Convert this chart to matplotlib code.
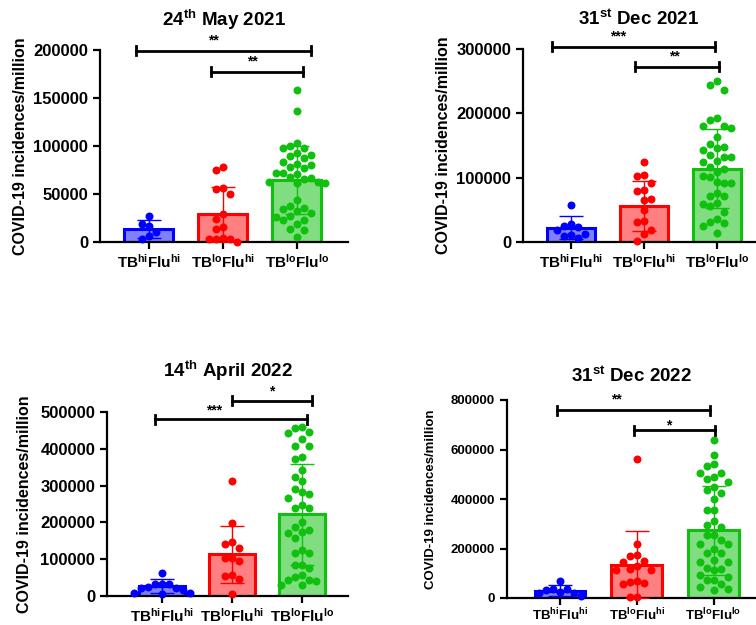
import numpy as np
import matplotlib

matplotlib.use("Agg")
import matplotlib.pyplot as plt

plt.rcParams["font.family"] = ["Liberation Sans", "DejaVu Sans"]
plt.rcParams["font.weight"] = "bold"
plt.rcParams["mathtext.fontset"] = "custom"
plt.rcParams["mathtext.rm"] = "Liberation Sans:bold"
plt.rcParams["mathtext.bf"] = "Liberation Sans:bold"
plt.rcParams["mathtext.it"] = "Liberation Sans:bold"

# ---- data ----
groups = ["TB$^{\\mathrm{hi}}$Flu$^{\\mathrm{hi}}$",
          "TB$^{\\mathrm{lo}}$Flu$^{\\mathrm{hi}}$",
          "TB$^{\\mathrm{lo}}$Flu$^{\\mathrm{lo}}$"]
titles = ["24$^{\\mathrm{th}}$ May 2021", "31$^{\\mathrm{st}}$ Dec 2021",
          "14$^{\\mathrm{th}}$ April 2022", "31$^{\\mathrm{st}}$ Dec 2022"]

# 24th May 2021
blue1 = [27400, 19100, 17000, 10400, 6300, 2800]
red1 = [78500, 75000, 56600, 54900, 50000, 29200, 23600, 15300, 13200, 3800,
        2800, 2800, 2800, 500]
green1 = [157900, 136400, 103100, 99900, 98200, 98200, 93000, 90200, 89500,
          87800, 83300, 81200, 80200, 78400, 76700, 71500, 71500, 71100, 68000,
          67000, 65200, 62800, 62800, 61800, 61100, 43700, 37500, 35000, 34000,
          32300, 29800, 27100, 26400, 22600, 22600, 18700, 13900, 12500, 5600]
mean1 = [13800, 29000, 64500]
sd1 = [9200, 28800, 35000]

# 31st Dec 2021
blue2 = [57600, 27500, 24900, 23400, 18200, 13000, 10400, 9300, 6700]
red2 = [124000, 104000, 103000, 92000, 81000, 80000, 67000, 66000, 49000,
        32000, 31000, 18000, 13000, 2000]
green2 = [250000, 244000, 236000, 192000, 189600, 180000, 180000, 177700,
          162600, 152000, 148000, 146600, 143000, 135000, 132600, 132600,
          125900, 124800, 117000, 113000, 109000, 103000, 101500, 93800, 92200,
          91000, 75600, 72000, 71500, 60000, 59000, 56000, 47000, 35000, 31500,
          29000, 25000, 14500]
mean2 = [22000, 56000, 114000]
sd2 = [18000, 39000, 61000]

# 14th April 2022
blue3 = [62500, 33500, 32000, 31500, 25000, 22000, 21500, 15000, 9000, 8000, 6000]
red3 = [312000, 198000, 147500, 142000, 130000, 104000, 104000, 96000, 57000,
        55000, 47000, 6000]
green3 = [458000, 456000, 445000, 442000, 427000, 408600, 408600, 378700,
          371500, 342500, 322500, 312600, 290800, 283600, 276300, 265500,
          246400, 240100, 238300, 201000, 187500, 178500, 174000, 171000,
          157600, 126000, 117000, 117000, 83000, 83000, 77000, 57000, 51600,
          44400, 44400, 40000, 29000, 29000]
mean3 = [26000, 113000, 222000]
sd3 = [19000, 78500, 137000]

# 31st Dec 2022
blue4 = [67000, 37000, 36000, 34000, 25000, 20000, 19000, 8000]
red4 = [560000, 217000, 175000, 168000, 150000, 145000, 130000, 118000, 115000,
        112000, 68000, 66000, 60000, 56000, 5000, 3000]
green4 = [637000, 579000, 540000, 533000, 504000, 504000, 488000, 482000,
          470000, 447000, 436000, 425000, 400000, 356000, 356000, 312500,
          296000, 288000, 255000, 255000, 234000, 218000, 218000, 197000,
          180000, 180000, 153000, 147000, 147000, 122000, 116000, 113000,
          93000, 86000, 73000, 73000, 56500, 43000, 35000, 32000]
mean4 = [30000, 135000, 274000]
sd4 = [23000, 137000, 180000]

# significance brackets: (x1, x2, y, stars, text x, text y)
sig1 = [(-0.18, 2.19, 199300, "**", 0.87, 203000), (0.84, 2.08, 177400, "**", 1.4, 181000)]
sig2 = [(-0.26, 1.97, 303600, "***", 0.64, 308000), (0.88, 2.02, 272500, "**", 1.42, 277000)]
sig3 = [(1.0, 2.15, 530000, "*", 1.57, 536000), (-0.11, 2.08, 480000, "***", 0.75, 484000)]
sig4 = [(-0.04, 1.96, 759500, "**", 0.73, 772000), (0.96, 2.02, 678500, "*", 1.41, 668000)]

edge_cols = ["#0000ff", "#ff0000", "#0fc00f"]
fill_cols = ["#8080ff", "#ff8080", "#80dd80"]

W, H = 756, 625
fig = plt.figure(figsize=(W / 100, H / 100), dpi=100)

# (left, top, right, bottom) in pixels, xlim, ymax, ytick step, sizes, pads
panels = [
    dict(px=(100, 50, 348, 242), xlim=(-0.66, 2.69), ymax=200000, step=50000,
         tfs=12, lfs=11.5, xfs=11, pad=17, lpad=4, xpad=3,
         pts=(blue1, red1, green1), mean=mean1, sd=sd1, sig=sig1, title=titles[0]),
    dict(px=(523, 49, 755, 242), xlim=(-0.66, 2.52), ymax=300000, step=100000,
         tfs=12, lfs=11.5, xfs=11, pad=17, lpad=4, xpad=3,
         pts=(blue2, red2, green2), mean=mean2, sd=sd2, sig=sig2, title=titles[1]),
    dict(px=(107, 412, 348, 596), xlim=(-0.79, 2.66), ymax=500000, step=100000,
         tfs=12, lfs=11.5, xfs=11, pad=25, lpad=6, xpad=3,
         pts=(blue3, red3, green3), mean=mean3, sd=sd3, sig=sig3, title=titles[2]),
    dict(px=(507, 400, 755, 598), xlim=(-0.69, 2.54), ymax=800000, step=200000,
         tfs=9.5, lfs=9.5, xfs=9.5, pad=13, lpad=10, xpad=1.5,
         pts=(blue4, red4, green4), mean=mean4, sd=sd4, sig=sig4, title=titles[3]),
]


def swarm(values, xpx, ypx, d, vf=1.35):
    """x offsets (data units) for a column-based beeswarm."""
    vals = np.asarray(values, dtype=float)
    placed = []
    offs = np.zeros(len(vals))
    cands = [0] + [s * j for j in range(1, 12) for s in (-1, 1)]
    for i in np.argsort(vals)[::-1]:
        y = vals[i] * ypx
        for c in cands:
            if all(not (c == a and abs(y - b) < vf * d) for a, b in placed):
                break
        placed.append((c, y))
        offs[i] = c * d / xpx
    return offs


dot_px = 7.0
for p in panels:
    l, t, r, b = p["px"]
    ax = fig.add_axes([l / W, 1 - b / H, (r - l) / W, (b - t) / H])
    ax.set_xlim(*p["xlim"])
    ax.set_ylim(0, p["ymax"])
    xpx = (r - l) / (p["xlim"][1] - p["xlim"][0])
    ypx = (b - t) / p["ymax"]
    xs = np.arange(3)

    ax.bar(xs, p["mean"], width=0.66, color=fill_cols, edgecolor=edge_cols,
           linewidth=2.2, zorder=2)
    for i, vals in enumerate(p["pts"]):
        off = swarm(vals, xpx, ypx, dot_px)
        ax.scatter(i + off, vals, s=33, color=edge_cols[i], linewidths=0,
                   zorder=3, clip_on=False)
        ax.errorbar(i, p["mean"][i], yerr=p["sd"][i], fmt="none",
                    ecolor=edge_cols[i], elinewidth=1.0, capsize=8.5,
                    capthick=1.0, zorder=4)

    dy = 4.5 / ypx
    for x1, x2, y, txt, tx, ty in p["sig"]:
        ax.plot([x1, x2], [y, y], color="black", lw=2.0, clip_on=False, zorder=5)
        ax.plot([x1, x1], [y - dy, y + dy], color="black", lw=2.0, clip_on=False, zorder=5)
        ax.plot([x2, x2], [y - dy, y + dy], color="black", lw=2.0, clip_on=False, zorder=5)
        ax.text(tx, ty, txt, ha="center", va="bottom", fontsize=10,
                fontweight="bold", clip_on=False)

    ax.set_yticks(np.arange(0, p["ymax"] + 1, p["step"]))
    ax.set_yticklabels([f"{v:d}" for v in np.arange(0, p["ymax"] + 1, p["step"])],
                       fontsize=p["tfs"], fontweight="bold")
    ax.set_xticks(xs)
    ax.set_xticklabels(groups, fontsize=p["xfs"], fontweight="bold")
    ax.tick_params(axis="both", direction="out", length=5, width=1.6)
    ax.tick_params(axis="x", pad=p["xpad"])
    for s in ("top", "right"):
        ax.spines[s].set_visible(False)
    for s in ("left", "bottom"):
        ax.spines[s].set_linewidth(1.6)
    ax.set_ylabel("COVID-19 incidences/million", fontsize=p["lfs"],
                  fontweight="bold", labelpad=p["lpad"])
    ax.set_title(p["title"], fontsize=13.5, fontweight="bold", pad=p["pad"])

fig.savefig("out.png", dpi=100)
